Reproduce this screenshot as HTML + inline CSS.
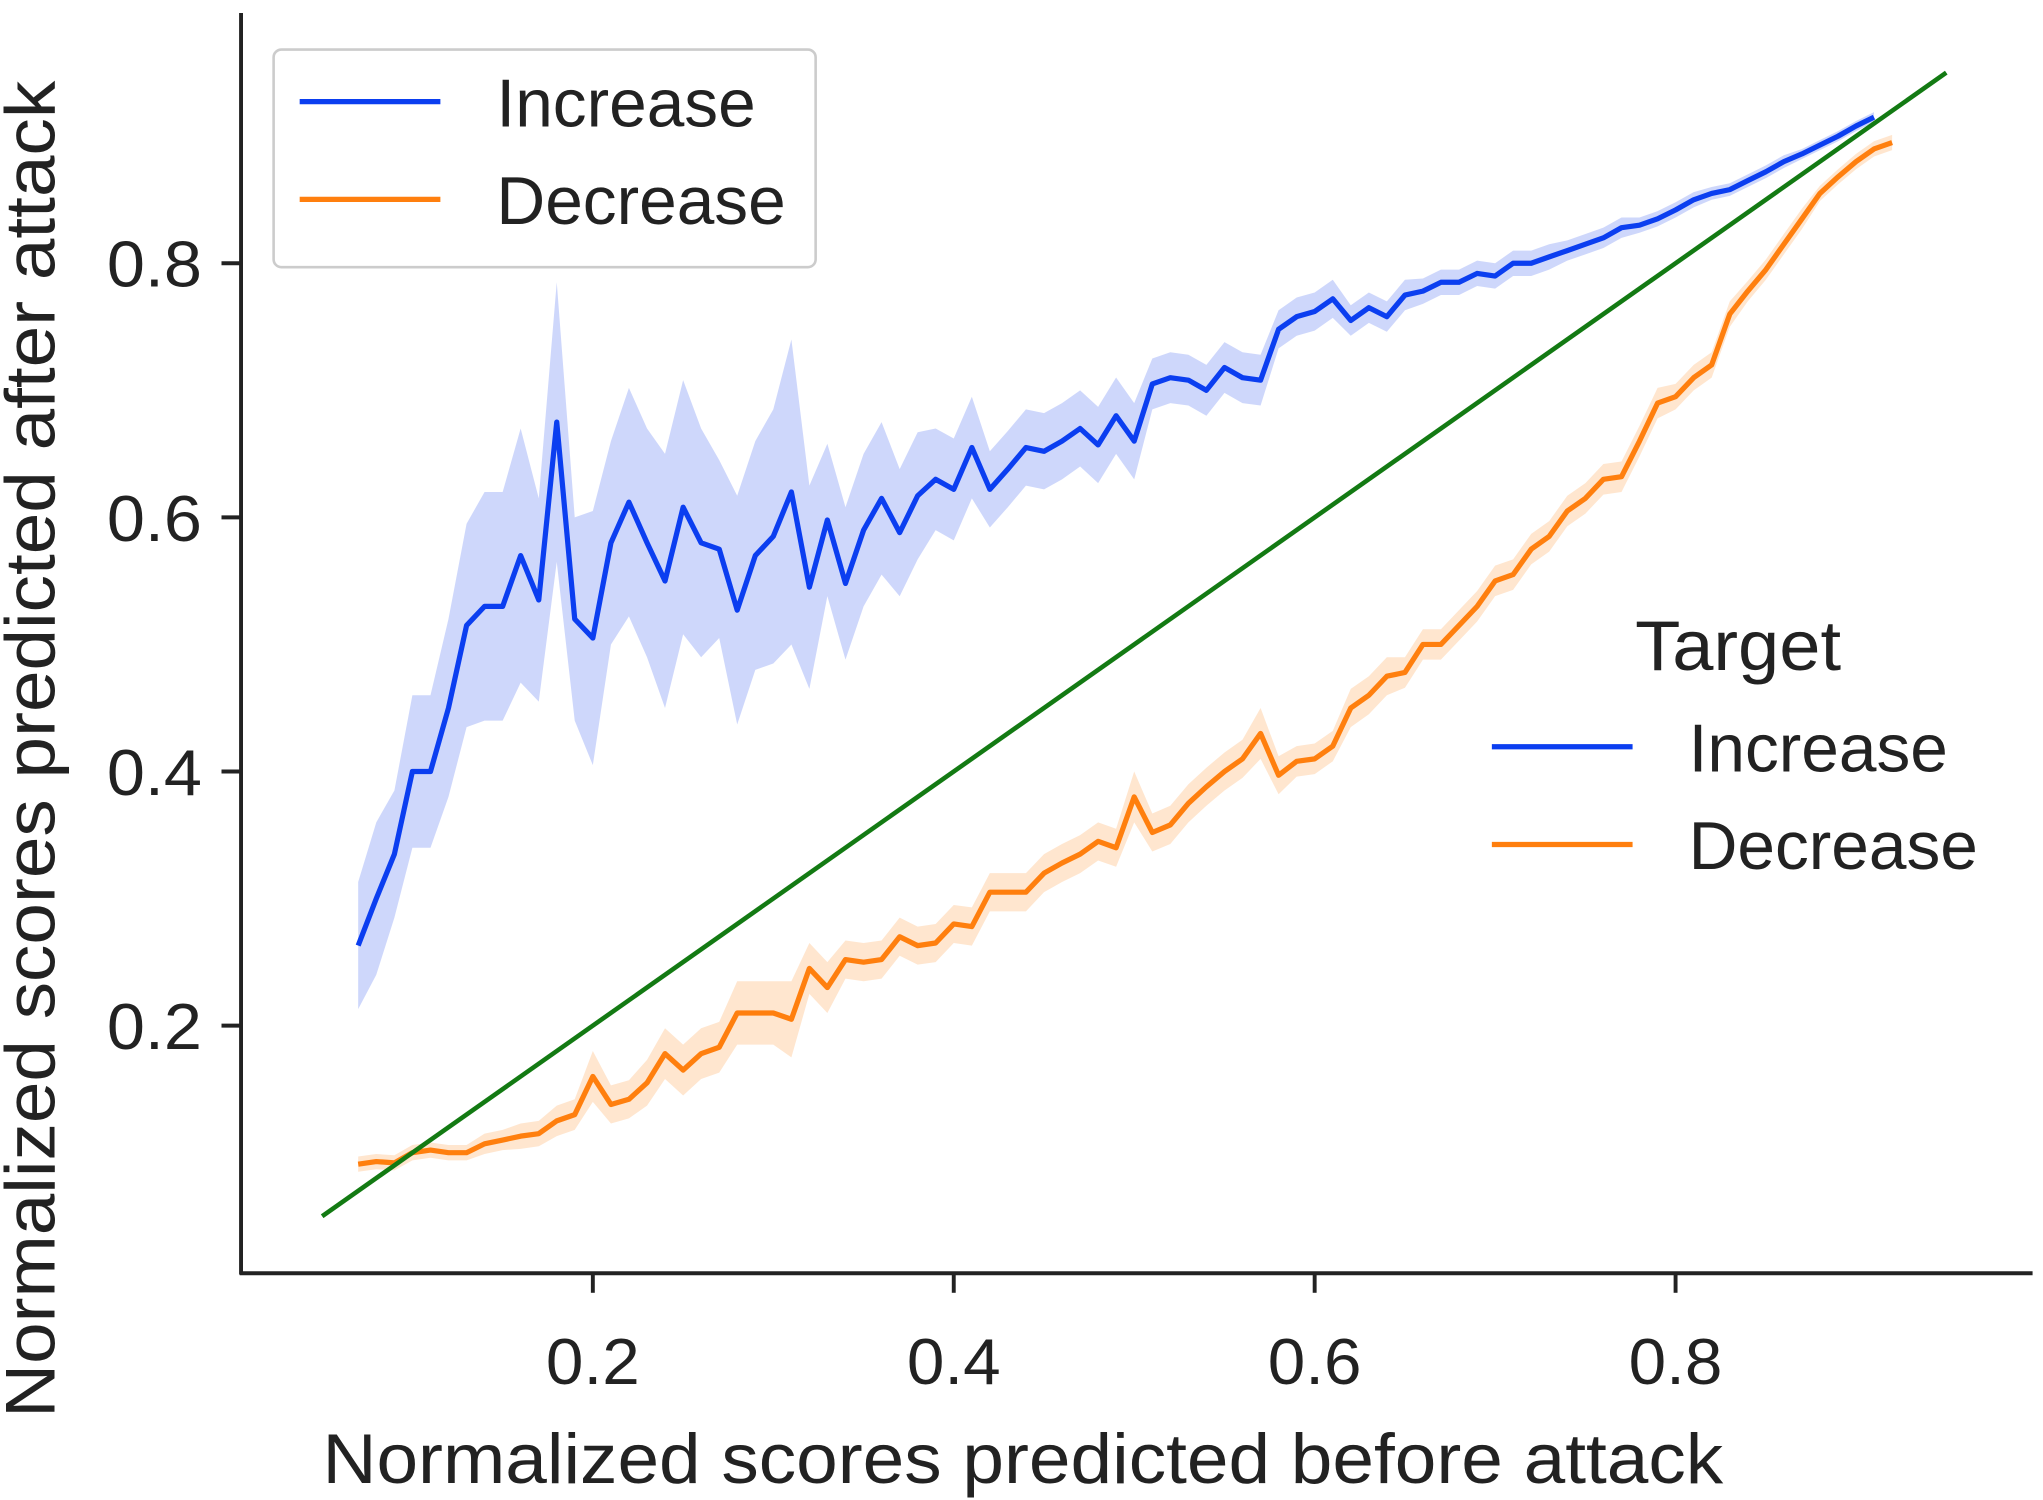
<!DOCTYPE html>
<html><head><meta charset="utf-8"><style>
html,body{margin:0;padding:0;background:#fff;}
svg{display:block;font-family:"Liberation Sans","DejaVu Sans",sans-serif;}
</style></head><body>
<svg id="chart" width="2043" height="1500" viewBox="0 0 1568 1151" preserveAspectRatio="none" xmlns="http://www.w3.org/2000/svg">
<g id="plot"></g>
<g id="axes"></g>
<text transform="translate(42,575) rotate(-90)" text-anchor="middle" font-size="54" textLength="1026" lengthAdjust="spacingAndGlyphs" fill="#222">Normalized scores predicted after attack</text>
<text x="785" y="1138" text-anchor="middle" font-size="54" textLength="1075" lengthAdjust="spacingAndGlyphs" fill="#222">Normalized scores predicted before attack</text>
<g>
<rect x="210" y="38" width="416" height="167" rx="6" fill="#fff" fill-opacity="0.8" stroke="#ccc" stroke-width="2"/>
<line x1="230" y1="78" x2="338" y2="78" stroke="#0b3ef0" stroke-width="4"/>
<text x="381" y="97" font-size="52" textLength="199" lengthAdjust="spacingAndGlyphs" fill="#222">Increase</text>
<line x1="230" y1="153" x2="338" y2="153" stroke="#ff7f0e" stroke-width="4"/>
<text x="381" y="172" font-size="52" textLength="222" lengthAdjust="spacingAndGlyphs" fill="#222">Decrease</text>
</g>
<g>
<text x="1255" y="514" font-size="54" textLength="158" lengthAdjust="spacingAndGlyphs" fill="#222">Target</text>
<line x1="1145" y1="573" x2="1253" y2="573" stroke="#0b3ef0" stroke-width="4"/>
<text x="1296" y="592" font-size="52" textLength="199" lengthAdjust="spacingAndGlyphs" fill="#222">Increase</text>
<line x1="1145" y1="648" x2="1253" y2="648" stroke="#ff7f0e" stroke-width="4"/>
<text x="1296" y="667" font-size="52" textLength="222" lengthAdjust="spacingAndGlyphs" fill="#222">Decrease</text>
</g>
</svg>
<script>
const xStart = 0.07, xStep = 0.01;
const increaseValues = [0.263,0.30,0.335,0.40,0.40,0.45,0.515,0.53,0.53,0.57,0.535,0.675,0.52,0.505,0.58,0.612,0.58,0.55,0.608,0.58,0.575,0.527,0.57,0.585,0.62,0.545,0.598,0.548,0.59,0.615,0.588,0.617,0.63,0.622,0.655,0.622,0.638,0.655,0.652,0.66,0.67,0.657,0.68,0.66,0.705,0.71,0.708,0.70,0.718,0.71,0.708,0.748,0.758,0.762,0.772,0.755,0.765,0.758,0.775,0.778,0.785,0.785,0.792,0.79,0.80,0.80,0.805,0.81,0.815,0.82,0.828,0.83,0.835,0.842,0.85,0.855,0.858,0.865,0.872,0.88,0.886,0.893,0.90,0.908,0.915];
const increaseErr = [0.05,0.06,0.05,0.06,0.06,0.07,0.08,0.09,0.09,0.1,0.08,0.11,0.08,0.1,0.08,0.09,0.09,0.1,0.1,0.09,0.07,0.09,0.09,0.1,0.12,0.08,0.06,0.06,0.06,0.06,0.05,0.05,0.04,0.04,0.04,0.03,0.03,0.03,0.03,0.03,0.03,0.03,0.03,0.03,0.02,0.02,0.02,0.02,0.02,0.02,0.02,0.015,0.015,0.015,0.015,0.012,0.012,0.012,0.012,0.01,0.01,0.01,0.01,0.01,0.01,0.01,0.01,0.008,0.008,0.008,0.008,0.006,0.006,0.006,0.006,0.005,0.005,0.005,0.005,0.005,0.004,0.004,0.004,0.004,0.004];
const decreaseValues = [0.091,0.093,0.092,0.10,0.102,0.10,0.10,0.107,0.11,0.113,0.115,0.125,0.13,0.16,0.138,0.142,0.155,0.178,0.165,0.178,0.183,0.21,0.21,0.21,0.205,0.245,0.23,0.252,0.25,0.252,0.27,0.263,0.265,0.28,0.278,0.305,0.305,0.305,0.32,0.328,0.335,0.345,0.34,0.38,0.352,0.358,0.375,0.388,0.40,0.41,0.43,0.397,0.408,0.41,0.42,0.45,0.46,0.475,0.478,0.50,0.50,0.515,0.53,0.55,0.555,0.575,0.585,0.605,0.615,0.63,0.632,0.66,0.69,0.695,0.71,0.72,0.76,0.778,0.795,0.815,0.835,0.855,0.868,0.88,0.89,0.895];
const decreaseErr = [0.006,0.006,0.006,0.006,0.006,0.006,0.006,0.008,0.008,0.01,0.01,0.012,0.012,0.02,0.015,0.015,0.018,0.02,0.02,0.02,0.02,0.025,0.025,0.025,0.03,0.02,0.02,0.015,0.015,0.015,0.015,0.015,0.015,0.015,0.015,0.015,0.015,0.015,0.015,0.015,0.015,0.015,0.015,0.02,0.015,0.015,0.015,0.015,0.015,0.015,0.02,0.015,0.012,0.012,0.012,0.015,0.015,0.015,0.012,0.012,0.012,0.012,0.012,0.012,0.012,0.012,0.012,0.012,0.012,0.012,0.012,0.012,0.012,0.01,0.01,0.01,0.01,0.008,0.008,0.008,0.008,0.006,0.006,0.006,0.006,0.006];
const refLine = [0.05, 0.95];
const xTicks = [0.2,0.4,0.6,0.8];
const yTicks = [0.2,0.4,0.6,0.8];
const xTickLabels = ["0.2","0.4","0.6","0.8"];
const yTickLabels = ["0.2","0.4","0.6","0.8"];

const NS="http://www.w3.org/2000/svg";
function sx(v){return 178+v*1385;}
function sy(v){return 982-v*975;}
function mk(tag,attrs,parent){const e=document.createElementNS(NS,tag);for(const k in attrs)e.setAttribute(k,attrs[k]);parent.appendChild(e);return e;}
const plot=document.getElementById('plot'), axes=document.getElementById('axes');

function series(vals,err,color,fill,name){
  const xs=vals.map((v,i)=>xStart+i*xStep);
  let up=xs.map((x,i)=>sx(x).toFixed(1)+','+sy(vals[i]+err[i]).toFixed(1));
  let lo=xs.map((x,i)=>sx(x).toFixed(1)+','+sy(vals[i]-err[i]).toFixed(1)).reverse();
  const band=mk('polygon',{points:up.concat(lo).join(' '),fill:fill,'fill-opacity':0.25,stroke:'none'},plot);
  
  
  const line=mk('polyline',{points:xs.map((x,i)=>sx(x).toFixed(1)+','+sy(vals[i]).toFixed(1)).join(' '),fill:'none',stroke:color,'stroke-width':4,'stroke-linejoin':'round'},plot);
  
  
}
series(increaseValues,increaseErr,'#0b3ef0','#3b5ff0','increase');
series(decreaseValues,decreaseErr,'#ff7f0e','#ff9a40','decrease');
const ref=mk('line',{x1:sx(refLine[0]),y1:sy(refLine[0]),x2:sx(refLine[1]),y2:sy(refLine[1]),stroke:'#137a13','stroke-width':3.5},plot);



const ya=mk('line',{x1:185,y1:10,x2:185,y2:978,stroke:'#222','stroke-width':3},axes);


const xa=mk('line',{x1:184,y1:977,x2:1560,y2:977,stroke:'#222','stroke-width':3},axes);


xTicks.forEach((t,i)=>{
  const tk=mk('line',{x1:sx(t),y1:977,x2:sx(t),y2:992,stroke:'#222','stroke-width':3},axes);
  
  
  const lb=mk('text',{x:sx(t),y:1062,'text-anchor':'middle','font-size':50,textLength:72,lengthAdjust:'spacingAndGlyphs',fill:'#222'},axes);
  lb.textContent=xTickLabels[i];
  
  
});
yTicks.forEach((t,i)=>{
  const tk=mk('line',{x1:170,y1:sy(t),x2:185,y2:sy(t),stroke:'#222','stroke-width':3},axes);
  
  
  const lb=mk('text',{x:155,y:sy(t)+18,'text-anchor':'end','font-size':50,textLength:73,lengthAdjust:'spacingAndGlyphs',fill:'#222'},axes);
  lb.textContent=yTickLabels[i];
  
  
});
</script>
</body></html>
